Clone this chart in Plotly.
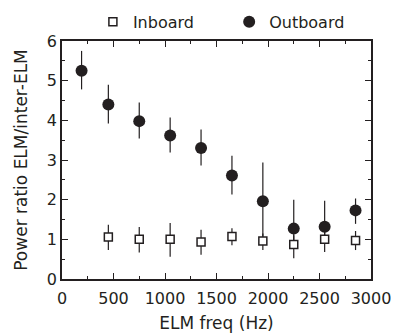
import plotly.graph_objects as go

# ELM frequency bins (Hz)
freq_out = [190, 450, 750, 1050, 1350, 1650, 1950, 2250, 2550, 2850]
freq_in = [450, 750, 1050, 1350, 1650, 1950, 2250, 2550, 2850]

# Outboard power ratio with upper / lower bounds of the spread
ratio_out = [5.25, 4.40, 3.98, 3.62, 3.30, 2.61, 1.96, 1.27, 1.32, 1.73]
high_out = [5.75, 4.90, 4.45, 4.07, 3.77, 3.11, 2.94, 2.00, 1.97, 2.03]
low_out = [4.78, 3.92, 3.54, 3.19, 2.86, 2.13, 1.00, 0.90, 1.00, 1.39]

# Inboard power ratio with upper / lower bounds
ratio_in = [1.06, 1.00, 1.00, 0.93, 1.07, 0.96, 0.87, 1.00, 0.97]
high_in = [1.37, 1.31, 1.41, 1.24, 1.28, 1.15, 1.10, 1.25, 1.21]
low_in = [0.73, 0.67, 0.56, 0.61, 0.85, 0.73, 0.52, 0.68, 0.73]

ink = "#231f20"
family = "DejaVu Sans, Arial, sans-serif"
tick_font = dict(family=family, size=16, color=ink)
title_font = dict(family=family, size=17, color=ink)

fig = go.Figure()

fig.add_trace(go.Scatter(
    x=freq_out, y=ratio_out, mode="markers", name="Outboard",
    legend="legend2", showlegend=True,
    marker=dict(symbol="circle", size=12, color=ink, line=dict(width=0)),
    error_y=dict(type="data", symmetric=False,
                 array=[h - v for h, v in zip(high_out, ratio_out)],
                 arrayminus=[v - l for v, l in zip(ratio_out, low_out)],
                 width=0, thickness=1.2, color=ink),
))

fig.add_trace(go.Scatter(
    x=freq_in, y=ratio_in, mode="markers", name="Inboard",
    legend="legend", showlegend=True,
    marker=dict(symbol="square", size=8, color="white", line=dict(width=1.5, color=ink)),
    error_y=dict(type="data", symmetric=False,
                 array=[h - v for h, v in zip(high_in, ratio_in)],
                 arrayminus=[v - l for v, l in zip(ratio_in, low_in)],
                 width=0, thickness=1.2, color=ink),
))

axis_common = dict(
    showline=True, linecolor=ink, linewidth=1.5, mirror="allticks",
    ticks="inside", ticklen=6, tickwidth=1.2, tickcolor=ink,
    showgrid=False, zeroline=False, tickfont=tick_font,
)

fig.update_xaxes(
    range=[0, 3000], tickvals=[0, 500, 1000, 1500, 2000, 2500, 3000],
    ticklabelstandoff=4,
    minor=dict(ticks="inside", ticklen=3, tickwidth=1, tickcolor=ink, dtick=250, tick0=0),
    title=dict(text="ELM freq (Hz)", font=title_font, standoff=10),
    **axis_common,
)
fig.update_yaxes(
    range=[0, 6], tickvals=[0, 1, 2, 3, 4, 5, 6],
    minor=dict(ticks="inside", ticklen=3, tickwidth=1, tickcolor=ink, dtick=0.5, tick0=0),
    title=dict(text="Power ratio ELM/inter-ELM", font=title_font, standoff=15),
    **axis_common,
)

legend_style = dict(orientation="h", y=1.08, xanchor="left", yanchor="middle",
                    font=tick_font, bgcolor="rgba(0,0,0,0)", visible=True)

fig.update_layout(
    width=393, height=333,
    margin=dict(l=62, r=22, t=41, b=54, autoexpand=False),
    plot_bgcolor="white", paper_bgcolor="white",
    font=tick_font,
    showlegend=True,
    legend=dict(x=0.100, **legend_style),
    legend2=dict(x=0.541, **legend_style),
)

fig.write_html("out.html")
